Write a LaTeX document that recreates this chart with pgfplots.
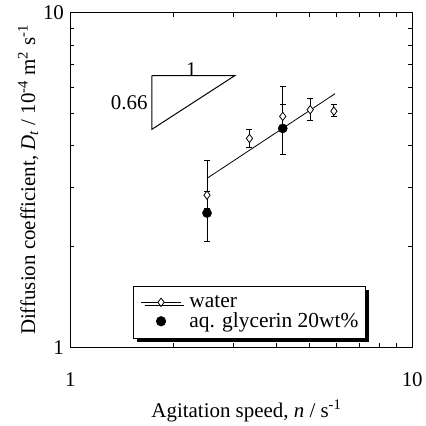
\documentclass[border=0pt]{standalone}
\usepackage{fontspec}
\setmainfont{Liberation Serif}
\usepackage{pgfplots}
\usepackage{pgfplotstable}
\pgfplotsset{compat=1.18}
\usetikzlibrary{shadows}
\pgfplotsset{/pgfplots/legimg/.style={legend image code/.code={\pgfpathmoveto{\pgfqpoint{-3pt}{0pt}}\pgfpathlineto{\pgfqpoint{46pt}{0pt}}\pgfusepath{discard}\draw[mark repeat=2,mark phase=2,##1] plot coordinates {(0pt,0pt)(20pt,0pt)(40pt,0pt)};}}}

\pgfplotstableread{
x y ep em
2.51 2.85 0.78 0.25
3.34 4.21 0.27 0.25
4.18 4.90 1.12 0.40
5.03 5.13 0.41 0.38
5.90 5.08 0.23 0.18
}\water
\pgfplotstableread{
x y ep em
2.51 2.52 0.40 0.44
4.18 4.51 0.80 0.73
}\glyc

\begin{document}
\begin{tikzpicture}[font=\fontsize{21}{24}\selectfont]
\begin{loglogaxis}[
  scale only axis, width=343pt, height=336pt,
  xmin=1, xmax=10, ymin=1, ymax=10,
  xtick={1,10}, xticklabels={1,10},
  ytick={1,10}, yticklabels={1,10},
  minor xtick={2,3,4,5,6,7,8,9}, minor ytick={2,3,4,5,6,7,8,9},
  tick align=inside, major tick length=5pt, minor tick length=4pt,
  tick style={black, line width=0.8pt},
  axis line style={line width=1.2pt},
  /pgf/number format/assume math mode=true,
  xticklabel style={yshift=-22pt},
  yticklabel style={xshift=-3pt},
  xlabel={Agitation speed, \textit{n} / s\textsuperscript{-1}},
  ylabel={Diffusion coefficient, \textit{D}\textsubscript{\textit{t}} / 10\textsuperscript{-4} m\textsuperscript{2} s\textsuperscript{-1}},
  xlabel style={at={(axis description cs:0.515,-0.19)}, anchor=center},
  ylabel style={at={(axis description cs:-0.124,0.5)}, anchor=center},
  legend style={at={(0.182,0.024)}, anchor=south west, draw=black, line width=1pt,
    fill=white, drop shadow={shadow xshift=3.5pt, shadow yshift=-3.5pt, fill=black, opacity=1},
    inner xsep=5pt, inner ysep=7pt, row sep=-1pt,
    font=\fontsize{21.5}{24}\selectfont,
    nodes={inner sep=2.5pt}},
  legend cell align=left,
  legimg,
]
\addlegendimage{black, line width=0.8pt, mark=diamond*, mark size=4.2pt, mark options={fill=white, line width=0.8pt}}
\addlegendentry{water}
\addlegendimage{black, only marks, mark=*, mark size=4.6pt}
\addlegendentry{aq. glycerin 20wt\%}

\addplot[black, line width=0.8pt, forget plot] coordinates {(2.51,3.20) (5.95,5.73)};
\addplot[black, only marks, mark=diamond*, mark size=4.2pt, mark options={fill=white, line width=0.8pt}, forget plot,
  error bars/.cd, y dir=both, y explicit, error bar style={line width=0.8pt}, error mark options={black, mark size=3pt, line width=0.8pt, rotate=90}]
  table[x=x, y=y, y error plus=ep, y error minus=em] {\water};
\addplot[black, only marks, mark=*, mark size=4.6pt, forget plot,
  error bars/.cd, y dir=both, y explicit, error bar style={line width=0.8pt}, error mark options={black, mark size=3pt, line width=0.8pt, rotate=90}]
  table[x=x, y=y, y error plus=ep, y error minus=em] {\glyc};

\addplot[black, line width=1pt, forget plot] coordinates {(1.73,6.49) (3.03,6.49) (1.73,4.48) (1.73,6.49)};
\node[anchor=south, inner sep=0pt, yshift=-1pt] at (axis cs:2.26,6.49) {1};
\node[anchor=east, inner sep=4pt] at (axis cs:1.73,5.40) {0.66};
\end{loglogaxis}
\path (current axis.south west) ++(-70.7pt,-77.7pt) coordinate (bbA);
\path (current axis.north east) ++(11pt,12.7pt) coordinate (bbB);
\path (bbA) rectangle (bbB);
\end{tikzpicture}
\end{document}
